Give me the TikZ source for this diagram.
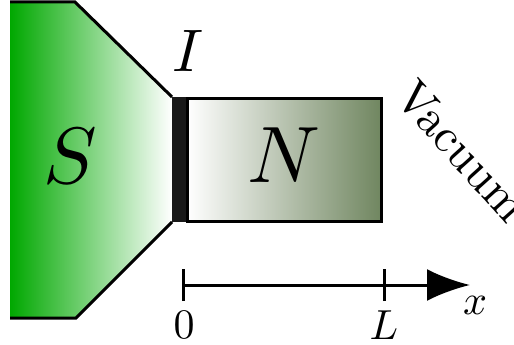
\documentclass[tikz,border=0pt]{standalone}
\usetikzlibrary{arrows.meta}
\definecolor{sgreen}{RGB}{0,168,0}
\definecolor{ngreen}{RGB}{112,134,96}
\tikzset{
  edge/.style={line width=3pt},
  big/.style={scale=8},
  mid/.style={scale=6},
  small/.style={scale=4.2, inner sep=0pt}
}

\begin{document}
\begin{tikzpicture}[x=1pt,y=-1pt]
\useasboundingbox (0,0) rectangle (514,345);
% superconductor
\shade[left color=sgreen, right color=white] (10,2) -- (75,2) -- (172,97) -- (172,222) -- (76,318) -- (10,318) -- cycle;
\draw[edge] (10,2) -- (75,2) -- (172,97);
\draw[edge] (172,222) -- (76,318) -- (10,318);
% barrier and normal metal
\fill[black!90] (172,97) rectangle (188,222);
\shadedraw[edge, left color=white, right color=ngreen] (187,98) rectangle (381,221);
\node[big] (s) at (70,156) {$S$};
\node[big] (n) at (284,155) {$N$};
\node[mid] (i) at (188,51) {$I$};
\node[scale=4.8, rotate=-48] (vac) at (462,151) {Vacuum};
% axis
\coordinate (o) at (183,285);
\coordinate (l) at (384,285);
\coordinate (e) at (470,285);
\draw[edge, -{Latex[length=43pt,width=32pt]}] (o) -- (e);
\draw[edge] ([yshift=-16pt]o) -- ([yshift=16pt]o);
\draw[edge] ([yshift=-16pt]l) -- ([yshift=16pt]l);
\node[small] (zero) at (184,325) {$0$};
\node[small] (len) at (384,325) {$L$};
\node[small] (xl) at (475,305) {$x$};
\end{tikzpicture}
\end{document}
